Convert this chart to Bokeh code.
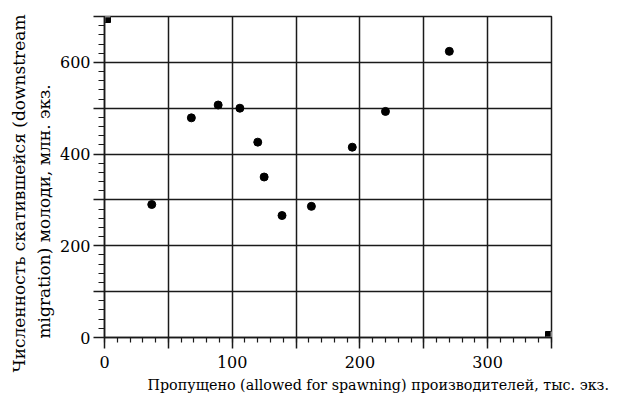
from bokeh.plotting import figure
from bokeh.models import Range1d, FixedTicker, Title
from bokeh.embed import file_html
from bokeh.resources import INLINE

# data
spawners = [37, 68, 89, 106, 120, 125, 139, 162, 194, 220, 270]
juveniles = [290, 479, 507, 500, 426, 350, 266, 286, 415, 493, 624]

x_ticks = [0, 50, 100, 150, 200, 250, 300, 350]
x_tick_labels = ["0", "", "100", "", "200", "", "300", ""]
y_ticks = [0, 100, 200, 300, 400, 500, 600, 700]
y_tick_labels = ["0", "", "200", "", "400", "", "600", ""]
x_minor = list(range(0, 351, 10))
y_minor = list(range(0, 701, 20))
corner_x = [0, 350]
corner_y = [700, 0]

xlabel = "Пропущено (allowed for spawning) производителей, тыс. экз."
ylabel1 = "Численность скатившейся (downstream"
ylabel2 = "migration) молоди, млн. экз."

FONT = "DejaVu Serif"
LINE = "#1a1a1a"

p = figure(width=617, height=396, output_backend="svg", toolbar_location=None,
           x_range=Range1d(0, 350), y_range=Range1d(0, 700),
           min_border_left=104, min_border_right=66, min_border_top=16, min_border_bottom=59)
p.outline_line_color = LINE
p.outline_line_width = 1.5
p.background_fill_color = "white"
p.border_fill_color = "white"

for ax, ticks, labels, minor in ((p.xaxis[0], x_ticks, x_tick_labels, x_minor),
                                 (p.yaxis[0], y_ticks, y_tick_labels, y_minor)):
    ax.ticker = FixedTicker(ticks=ticks, minor_ticks=minor)
    ax.major_label_overrides = {t: l for t, l in zip(ticks, labels)}
    ax.axis_line_color = LINE
    ax.axis_line_width = 1.5
    ax.major_tick_line_color = LINE
    ax.major_tick_line_width = 1.5
    ax.major_tick_out = 11
    ax.major_tick_in = 0
    ax.minor_tick_in = 0
    ax.minor_tick_line_color = LINE
    ax.minor_tick_line_width = 1.2
    ax.major_label_text_font = FONT
    ax.major_label_text_font_size = "16px"
    ax.major_label_text_color = "black"
p.xaxis.minor_tick_out = 5
p.yaxis.minor_tick_out = 6
p.xaxis.major_label_standoff = 7
p.yaxis.major_label_standoff = 3

p.grid.grid_line_color = LINE
p.grid.grid_line_width = 1.5

# corner markers
p.scatter(corner_x, corner_y, marker="square", size=12, fill_color="black", line_color="black")
p.scatter(corner_x, corner_y, marker="cross", size=12, line_color="white", line_width=1.5)

# data points
p.scatter(spawners, juveniles, marker="circle", size=8, fill_color="black", line_color="black")

# axis titles
p.add_layout(Title(text=xlabel, align="left", offset=43, standoff=8, text_font=FONT,
                   text_font_size="14.3px", text_font_style="normal", text_color="black"), "below")
p.add_layout(Title(text=ylabel2, align="left", offset=-1, standoff=5, text_font=FONT,
                   text_font_size="17px", text_font_style="normal", text_color="black"), "left")
p.add_layout(Title(text=ylabel1, align="left", offset=-35, standoff=2, text_font=FONT,
                   text_font_size="17px", text_font_style="normal", text_color="black"), "left")

open("out.html", "w").write(file_html(p, INLINE))
